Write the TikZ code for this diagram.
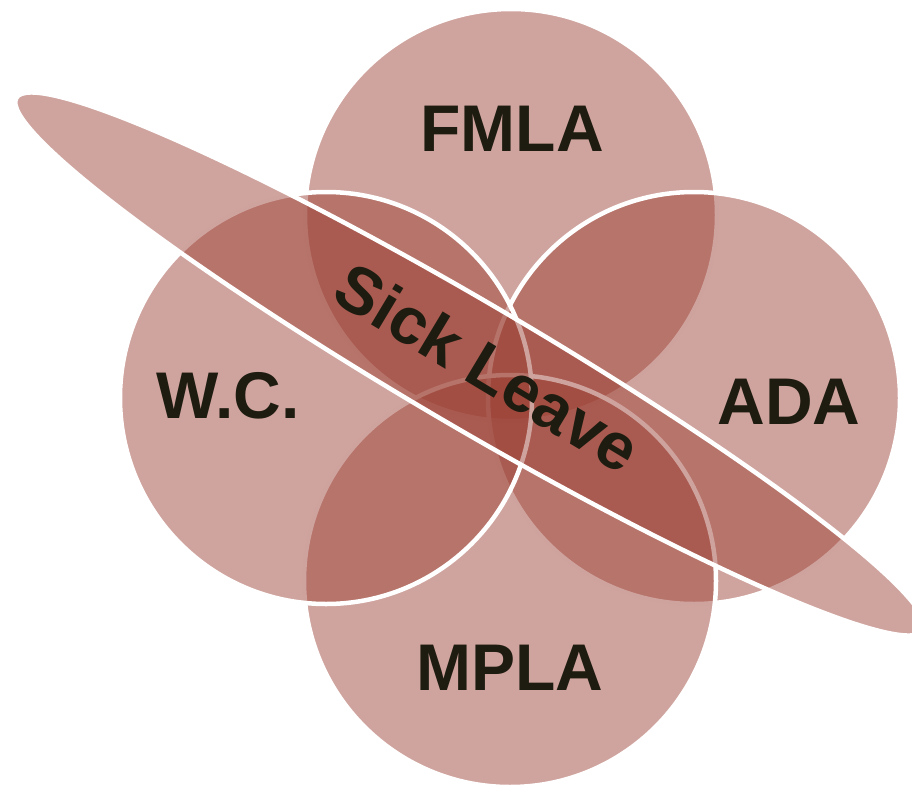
\documentclass[tikz,border=0pt]{standalone}
\usepackage{fontspec}
\setmainfont{Liberation Sans}
\definecolor{vennfill}{RGB}{156,64,52}
\definecolor{labeltext}{RGB}{30,28,16}
\tikzset{
  venn/.style={fill=vennfill, fill opacity=0.48, draw=white, line width=4.5pt},
  lbl/.style={text=labeltext, font=\fontsize{66}{70}\selectfont\bfseries, inner sep=0pt},
  sicklbl/.style={text=labeltext, font=\fontsize{66}{70}\selectfont\bfseries, inner sep=0pt}
}
\begin{document}
\begin{tikzpicture}[x=1pt,y=-1pt]
\useasboundingbox (0,0) rectangle (912,787);
% circles, in drawing order
\path[venn] (511,215) circle[radius=206];
\path[venn] (694,398) circle[radius=206];
\path[venn] (510,581) circle[radius=206];
\path[venn] (326,398) circle[radius=206];
% tilted ellipse
\path[venn, rotate around={-30.4:(470,364)}] (470,364) ellipse[x radius=526, y radius=62];
% labels
\node[lbl] (fmla) at (512,129) {FMLA};
\node[lbl] (wc) at (228,396) {W.C.};
\node[lbl] (ada) at (789,402) {ADA};
\node[lbl] (mpla) at (510,668) {MPLA};
\node[sicklbl, rotate=-31] (sick) at (488,367) {Sick Leave};
\end{tikzpicture}
\end{document}
